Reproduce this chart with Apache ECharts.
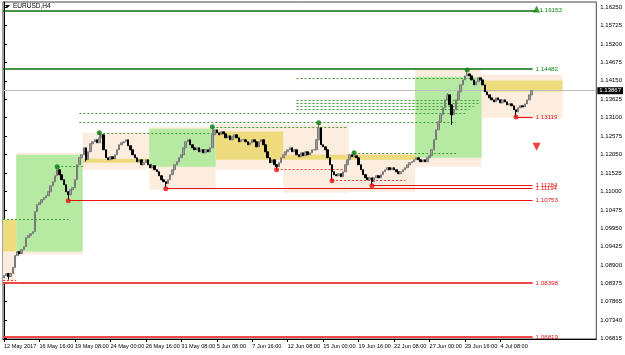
<!DOCTYPE html>
<html><head><meta charset="utf-8">
<script src="https://cdn.jsdelivr.net/npm/echarts@6/dist/echarts.min.js"></script>
<style>html,body{margin:0;padding:0;background:#fff}#c{width:625px;height:355px}</style>
</head><body><div id="c"></div><script>
// ---- data ----
const timeLabels = ['12 May 2017','16 May 16:00','19 May 08:00','24 May 00:00','26 May 16:00','31 May 08:00','5 Jun 08:00','7 Jun 16:00','12 Jun 08:00','15 Jun 00:00','19 Jun 16:00','22 Jun 08:00','27 Jun 00:00','29 Jun 16:00','4 Jul 08:00'];
const timeLabelBars = [0,16,32,48,64,80,96,112,128,144,160,176,192,208,224];
const priceTicks = [1.16250,1.15725,1.15200,1.14675,1.14150,1.13625,1.13100,1.12575,1.12050,1.11525,1.11000,1.10475,1.09950,1.09425,1.08900,1.08375,1.07865,1.07340,1.06815];
const firstOpen = 1.08540;
const closes = [
1.08605,1.08662,1.08577,1.08662,1.08833,1.09174,1.09287,1.09230,1.09344,1.09429,
1.09685,1.09742,1.09799,1.09856,1.10424,1.10623,1.10680,1.10765,1.10822,1.10879,
1.10992,1.11163,1.11277,1.11447,1.11618,1.11476,1.11333,1.11191,1.10992,1.10907,
1.11049,1.11106,1.11333,1.11760,1.11959,1.12044,1.12243,1.11902,1.12129,1.12357,
1.12413,1.12470,1.12385,1.12527,1.12612,1.12186,1.11959,1.11902,1.11987,1.11930,
1.12044,1.12186,1.12328,1.12385,1.12413,1.12470,1.12300,1.12186,1.12044,1.11959,
1.11845,1.11902,1.11760,1.11817,1.11902,1.11760,1.11675,1.11731,1.11618,1.11561,
1.11447,1.11333,1.11277,1.11220,1.11333,1.11476,1.11618,1.11760,1.11845,1.11959,
1.12044,1.12243,1.12413,1.12470,1.12328,1.12243,1.12186,1.12243,1.12129,1.12186,
1.12101,1.12186,1.12129,1.12243,1.12612,1.12754,1.12669,1.12612,1.12698,1.12641,
1.12527,1.12584,1.12470,1.12556,1.12612,1.12527,1.12413,1.12470,1.12470,1.12413,
1.12328,1.12385,1.12470,1.12413,1.12271,1.12413,1.12470,1.12328,1.12129,1.11959,
1.11817,1.11902,1.11760,1.11703,1.11817,1.11959,1.12044,1.12129,1.12186,1.12243,
1.12129,1.12186,1.12044,1.11987,1.12101,1.12016,1.12129,1.12044,1.12101,1.12186,
1.12186,1.12470,1.12811,1.12328,1.12271,1.12186,1.11959,1.11760,1.11561,1.11476,
1.11447,1.11504,1.11419,1.11561,1.11760,1.11902,1.12044,1.11987,1.12016,1.11959,
1.11760,1.11618,1.11476,1.11390,1.11333,1.11390,1.11277,1.11390,1.11447,1.11390,
1.11476,1.11561,1.11618,1.11675,1.11618,1.11675,1.11618,1.11561,1.11504,1.11561,
1.11618,1.11675,1.11760,1.11817,1.11845,1.11902,1.11959,1.11902,1.11845,1.11902,
1.11845,1.11959,1.12016,1.12186,1.12470,1.12754,1.12982,1.13181,1.13380,1.13607,
1.13749,1.13465,1.13181,1.13323,1.13607,1.13834,1.14033,1.14175,1.14289,1.14346,
1.14289,1.14175,1.14033,1.14119,1.14232,1.14175,1.14033,1.13834,1.13749,1.13664,
1.13607,1.13550,1.13664,1.13607,1.13522,1.13607,1.13550,1.13465,1.13493,1.13437,
1.13323,1.13266,1.13380,1.13437,1.13408,1.13493,1.13607,1.13749,1.13867];
const wickHighs = {24:1.11690, 43:1.12690, 94:1.12830, 142:1.12940, 158:1.12130, 200:1.13800, 209:1.14482};
const wickLows = {2:1.08491, 29:1.10753, 37:1.11850, 73:1.11106, 123:1.11618, 148:1.11305, 166:1.11163, 202:1.12896, 231:1.13119};
const upFractalBars = [24, 43, 94, 142, 158, 209];
const upFractalPrices = [1.11703, 1.12669, 1.12840, 1.12953, 1.12101, 1.14460];
const downFractalBars = [29, 73, 123, 148, 166, 231];
const downFractalPrices = [1.10737, 1.11078, 1.11618, 1.11305, 1.11163, 1.13119];
const currentPrice = 1.13867;
// zones: [fromBar, toBar, topPrice, bottomPrice]
const peachZones = [
 [-0.45,5.5,1.10197,1.08406],[5.5,35.5,1.12101,1.09202],[35.5,65.5,1.12669,1.11618],
 [65.5,95.5,1.12840,1.11049],[95.5,126,1.12925,1.11618],[126,155.5,1.12896,1.10964],
 [155.5,185.5,1.12101,1.10992],[185.5,215.5,1.14460,1.11703],[215.5,252,1.14318,1.13096]];
const greenZones = [[5.5,35.5,1.12044,1.09287],[65.5,95.5,1.12782,1.11703],[185.5,215.5,1.14261,1.11959]];
const yellowZones = [[-0.45,5.5,1.10197,1.09296],[35.5,65.5,1.11930,1.11817],[95.5,126,1.12706,1.11902],[126,185.5,1.12044,1.11902],[215.5,252,1.14156,1.13843]];
// dotted guide lines: [fromBar, toBar, price]
const greenDotted = [[24,35.5,1.11703],[-0.45,29,1.10197],[43,94,1.12669],[94,155,1.12840],[34,204,1.12982],[34,208,1.13238],[158,204,1.12101],[132,212,1.14232],[132,215,1.13607],[132,215,1.13522],[132,212,1.13437],[132,210,1.13352]];
const redDotted = [[123,155,1.11618],[148,181,1.11305],[-0.45,5.5,1.08463]];
// solid level lines: [fromBar, toBar, price, label]
const greenLevels = [[-0.45,240.3,1.16153,'1.16153'],[-0.45,238.5,1.14482,'1.14482']];
const redLevels = [[231,238.5,1.13119,'1.13119'],[166,238.5,1.11163,'1.11284'],[73,238.5,1.11078,'1.11194'],[29,238.5,1.10753,'1.10753']];
const redThickLevels = [[-0.45,238.5,1.08398,'1.08398'],[-0.45,238.5,1.06850,'1.06819']];
const upArrow = [240.3, 1.16190];
const downArrow = [240.3, 1.12271];

// ---- build ----
const FONT = 'Liberation Sans';
const candles = closes.map((c, i) => {
  const o = i === 0 ? firstOpen : closes[i - 1];
  const hi = wickHighs[i] !== undefined ? wickHighs[i] : Math.max(o, c);
  const lo = wickLows[i] !== undefined ? wickLows[i] : Math.min(o, c);
  return [i, o, c, lo, hi];
});
const area = (z, color) => [{xAxis: z[0], yAxis: z[2], itemStyle: {color}}, {xAxis: z[1], yAxis: z[3]}];
const seg = (l, style, label) => [{coord: [l[0], l[2]], lineStyle: style, label: label || {show: false}}, {coord: [l[1], l[2]]}];
const lvlLabel = (txt, color) => ({show: true, position: 'end', formatter: txt, color, fontSize: 6.2, fontFamily: FONT, distance: 3});

const XMIN = -0.45, XMAX = 267.25;
const chart = echarts.init(document.getElementById('c'), null, {renderer: 'canvas'});
chart.setOption({
  animation: false,
  backgroundColor: '#ffffff',
  grid: {left: 3, right: 25, top: 2, bottom: 16, show: true, borderColor: '#444', borderWidth: 1, backgroundColor: '#fff'},
  xAxis: {
    type: 'value', min: XMIN, max: XMAX,
    splitLine: {show: false},
    axisLine: {show: true, lineStyle: {color: '#000'}},
    axisTick: {show: true, customValues: timeLabelBars, length: 3, lineStyle: {color: '#000'}},
    axisLabel: {customValues: timeLabelBars, showMinLabel: true, showMaxLabel: true, hideOverlap: false,
      formatter: v => timeLabels[timeLabelBars.indexOf(Math.round(v))] || '', align: 'left', fontSize: 5.6, fontFamily: FONT, color: '#000', margin: 4}
  },
  yAxis: {
    type: 'value', position: 'right', min: 1.06800, max: 1.16392, scale: true,
    splitLine: {show: false},
    axisLine: {show: true, lineStyle: {color: '#000'}},
    axisTick: {show: true, customValues: priceTicks, length: 3, lineStyle: {color: '#000'}},
    axisLabel: {customValues: priceTicks, showMinLabel: true, showMaxLabel: true, formatter: v => v.toFixed(5), fontSize: 6, fontFamily: FONT, color: '#000', margin: 4}
  },
  graphic: [
    {type: 'polygon', shape: {points: [[5, 5], [10, 5], [7.5, 8]]}, style: {fill: '#000'}, z: 100},
    {type: 'text', left: 13, top: 3, style: {text: 'EURUSD,H4', fontSize: 6.5, fontFamily: FONT, fill: '#000'}, z: 100}
  ],
  series: [
    {type: 'line', data: [], silent: true, z: 1, markArea: {silent: true, data: peachZones.map(z => area(z, '#FDEDDF'))}},
    {type: 'line', data: [], silent: true, z: 2, markArea: {silent: true, data: greenZones.map(z => area(z, '#B6EAA3')).concat(yellowZones.map(z => area(z, '#EEDB7E')))}},
    {type: 'line', data: [], silent: true, z: 3, markLine: {silent: true, symbol: ['none', 'none'], animation: false,
      data: greenDotted.map(l => seg(l, {color: '#3C9A3C', type: [2, 2], width: 1}))
        .concat(redDotted.map(l => seg(l, {color: '#F04040', type: [2, 2], width: 1})))
        .concat([[{coord: [XMIN, currentPrice], lineStyle: {color: '#BDBDBD', type: 'solid', width: 1},
                   label: {show: true, position: 'end', formatter: '1.13867', color: '#fff', backgroundColor: '#000', padding: [1, 2, 0, 2], fontSize: 6, fontFamily: FONT, distance: 1}},
                  {coord: [XMAX, currentPrice]}]])
    }},
    {type: 'line', data: [], silent: true, z: 4, markLine: {silent: true, symbol: ['none', 'none'], animation: false,
      data: greenLevels.map(l => seg(l, {color: '#0A6E0A', type: 'solid', width: 1.5}, lvlLabel(l[3], '#0A8A0A')))
        .concat(redLevels.map(l => seg(l, {color: '#E81010', type: 'solid', width: 1.2}, lvlLabel(l[3], '#E81010'))))
        .concat(redThickLevels.map(l => seg(l, {color: '#F04848', type: 'solid', width: 2}, lvlLabel(l[3], '#E81010'))))
    }},
    {type: 'candlestick', z: 5, data: candles, encode: {x: 0, y: [1, 2, 3, 4]}, barWidth: 2,
      itemStyle: {color: '#A0A0A0', color0: '#000000', borderColor: '#7A7A7A', borderColor0: '#000000', borderWidth: 1}},
    {type: 'scatter', z: 6, symbolSize: 5, itemStyle: {color: '#0A7A0A'}, data: upFractalBars.map((b, i) => [b, upFractalPrices[i]])},
    {type: 'scatter', z: 6, symbolSize: 5, itemStyle: {color: '#E81010'}, data: downFractalBars.map((b, i) => [b, downFractalPrices[i]])},
    {type: 'scatter', z: 7, symbol: 'triangle', symbolSize: 7, itemStyle: {color: '#0A8A0A'}, data: [upArrow]},
    {type: 'scatter', z: 7, symbol: 'triangle', symbolRotate: 180, symbolSize: 8, itemStyle: {color: '#F01010'}, data: [downArrow]}
  ]
});
</script></body></html>
